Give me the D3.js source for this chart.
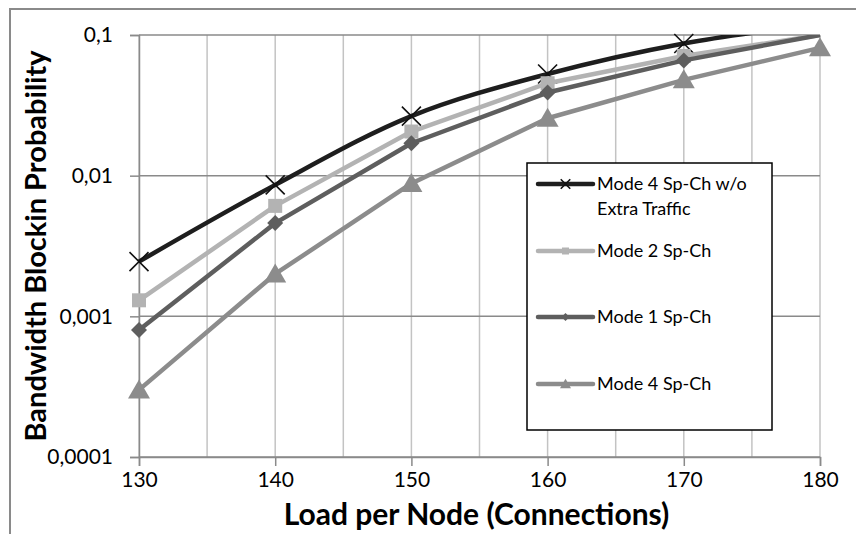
<!DOCTYPE html>
<html>
<head>
<meta charset="utf-8">
<script src="https://cdn.jsdelivr.net/npm/d3@7"></script>
<style>
  body { margin: 0; background: #fff; }
  svg { display: block; font-family: Lato, "Open Sans", sans-serif; }
</style>
</head>
<body>
<svg id="chart" width="856" height="534"></svg>
<script>
// Data
var loads = [130, 140, 150, 160, 170, 180];
var mode4NoExtra = [0.00245, 0.0086, 0.0265, 0.0528, 0.087, 0.12];
var mode2 = [0.0013, 0.0061, 0.0206, 0.0454, 0.071, 0.1];
var mode1 = [0.0008, 0.0046, 0.017, 0.039, 0.066, 0.1];
var mode4 = [0.0003, 0.002, 0.0088, 0.0256, 0.048, 0.081];
var seriesNames = ["Mode 4 Sp-Ch w/o|Extra Traffic", "Mode 2 Sp-Ch", "Mode 1 Sp-Ch", "Mode 4 Sp-Ch"];
var yTicks = [0.0001, 0.001, 0.01, 0.1];
var yTickLabels = ["0,0001", "0,001", "0,01", "0,1"];
var xTicks = [130, 140, 150, 160, 170, 180];
var xGrid = [130, 135, 140, 145, 150, 155, 160, 165, 170, 175, 180];

var series = [
  {name: seriesNames[0], values: mode4NoExtra, color: "#1e1e1e", marker: "x", smooth: true},
  {name: seriesNames[1], values: mode2, color: "#b3b3b3", marker: "square"},
  {name: seriesNames[2], values: mode1, color: "#5e5e5e", marker: "diamond"},
  {name: seriesNames[3], values: mode4, color: "#8c8c8c", marker: "triangle"}
];

var margin = {top: 35, right: 36, bottom: 77, left: 139};
var width = 856 - margin.left - margin.right,
    height = 534 - margin.top - margin.bottom;

var svg = d3.select("#chart");

// outer chart frame (cropped on right and bottom)
svg.append("rect")
  .attr("x", 10).attr("y", 9)
  .attr("width", 900).attr("height", 600)
  .style("fill", "none")
  .style("stroke", "#8a8a8a")
  .style("stroke-width", 2);

var x = d3.scaleLinear().domain([130, 180]).range([0, width]);
var y = d3.scaleLog().domain([0.0001, 0.1]).range([height, 0]);

var g = svg.append("g")
  .attr("transform", "translate(" + margin.left + "," + margin.top + ")");

// vertical gridlines
g.selectAll(".vgrid").data(xGrid).enter().append("line")
  .attr("class", "vgrid")
  .attr("x1", function(d){ return x(d); })
  .attr("x2", function(d){ return x(d); })
  .attr("y1", 0).attr("y2", height)
  .style("stroke", "#c3c3c3")
  .style("stroke-width", 1.5);

// horizontal gridlines
g.selectAll(".hgrid").data(yTicks).enter().append("line")
  .attr("class", "hgrid")
  .attr("x1", 0).attr("x2", width)
  .attr("y1", function(d){ return y(d); })
  .attr("y2", function(d){ return y(d); })
  .style("stroke", "#8a8a8a")
  .style("stroke-width", 1.5);

// Y axis
var yAxis = g.append("g")
  .call(d3.axisLeft(y).tickValues(yTicks).tickSize(9).tickPadding(17)
    .tickFormat(function(d, i){ return yTickLabels[i]; }));
yAxis.select(".domain").style("stroke", "#8a8a8a").style("stroke-width", 1.5);
yAxis.selectAll(".tick line").style("stroke", "#8a8a8a").style("stroke-width", 1.5);
yAxis.selectAll("text")
  .style("font-size", "21px")
  .style("fill", "#000")
  .style("font-family", "Lato, sans-serif");

// X axis
var xAxis = g.append("g")
  .attr("transform", "translate(0," + height + ")")
  .call(d3.axisBottom(x).tickValues(xTicks).tickSize(9).tickPadding(6).tickFormat(d3.format("d")));
xAxis.select(".domain").style("stroke", "#8a8a8a").style("stroke-width", 1.5);
xAxis.selectAll(".tick line").style("stroke", "#8a8a8a").style("stroke-width", 1.5);
xAxis.selectAll("text")
  .style("font-size", "21px")
  .style("fill", "#000")
  .style("font-family", "Lato, sans-serif");

// clip for lines
svg.append("defs").append("clipPath").attr("id", "plotclip")
  .append("rect").attr("x", -3).attr("y", 0).attr("width", width + 6).attr("height", height);

function drawMarker(sel, type, color, size){
  if(type == "x"){
    sel.append("path")
      .attr("d", "M" + (-size) + "," + (-size) + "L" + size + "," + size + "M" + (-size) + "," + size + "L" + size + "," + (-size))
      .style("stroke", "#111")
      .style("stroke-width", 1.6)
      .style("fill", "none");
  }
  else if(type == "square"){
    sel.append("rect")
      .attr("x", -size).attr("y", -size)
      .attr("width", size * 2).attr("height", size * 2)
      .style("fill", color);
  }
  else if(type == "diamond"){
    sel.append("path")
      .attr("d", "M0," + (-size) + "L" + size + ",0L0," + size + "L" + (-size) + ",0Z")
      .style("fill", color);
  }
  else if(type == "triangle"){
    sel.append("path")
      .attr("d", "M0," + (-size * 1.05) + "L" + (size * 1.1) + "," + (size * 0.85) + "L" + (-size * 1.1) + "," + (size * 0.85) + "Z")
      .style("fill", color);
  }
}

var markerSize = {x: 9.5, square: 7, diamond: 8, triangle: 10};

series.forEach(function(s){
  var pts = loads.map(function(d, i){ return {x: d, y: s.values[i]}; });
  var line = d3.line()
    .x(function(d){ return x(d.x); })
    .y(function(d){ return y(d.y); })
    .curve(s.smooth ? d3.curveCatmullRom.alpha(0.5) : d3.curveLinear);

  g.append("path")
    .datum(pts)
    .attr("clip-path", "url(#plotclip)")
    .attr("d", line)
    .style("fill", "none")
    .style("stroke", s.color)
    .style("stroke-width", 4.5)
    .style("stroke-linejoin", "round");

  pts.filter(function(d){ return d.y < 0.1; }).forEach(function(d){
    var m = g.append("g").attr("transform", "translate(" + x(d.x) + "," + y(d.y) + ")");
    drawMarker(m, s.marker, s.color, markerSize[s.marker]);
  });
});

// Legend
var legend = svg.append("g").attr("transform", "translate(527,163)");
legend.append("rect")
  .attr("width", 245).attr("height", 267)
  .style("fill", "#fff")
  .style("stroke", "#000")
  .style("stroke-width", 1.5);

var legendY = [21, 88, 154, 221];
series.forEach(function(s, i){
  var row = legend.append("g").attr("transform", "translate(0," + legendY[i] + ")");
  row.append("line")
    .attr("x1", 11).attr("x2", 66)
    .style("stroke", s.color)
    .style("stroke-width", 4.5)
    .style("stroke-linecap", "round");
  var m = row.append("g").attr("transform", "translate(38.5,0)");
  drawMarker(m, s.marker, s.color, markerSize[s.marker] * 0.5);
  var parts = s.name.split("|");
  var t = row.append("text")
    .attr("x", 70)
    .style("font-size", "18px")
    .style("fill", "#000");
  parts.forEach(function(p, j){
    t.append("tspan").attr("x", 70).attr("dy", j == 0 ? "0.35em" : "25px").text(p);
  });
});

// Axis titles
svg.append("text")
  .attr("transform", "translate(46," + (margin.top + height / 2) + ") rotate(-90)")
  .style("text-anchor", "middle")
  .style("font-size", "29px")
  .style("font-weight", "bold")
  .style("fill", "#000")
  .text("Bandwidth Blockin Probability");

svg.append("text")
  .attr("x", margin.left + width / 2 - 3)
  .attr("y", 525)
  .style("text-anchor", "middle")
  .style("font-size", "30px")
  .style("font-weight", "bold")
  .style("fill", "#000")
  .text("Load per Node (Connections)");
</script>
</body>
</html>
